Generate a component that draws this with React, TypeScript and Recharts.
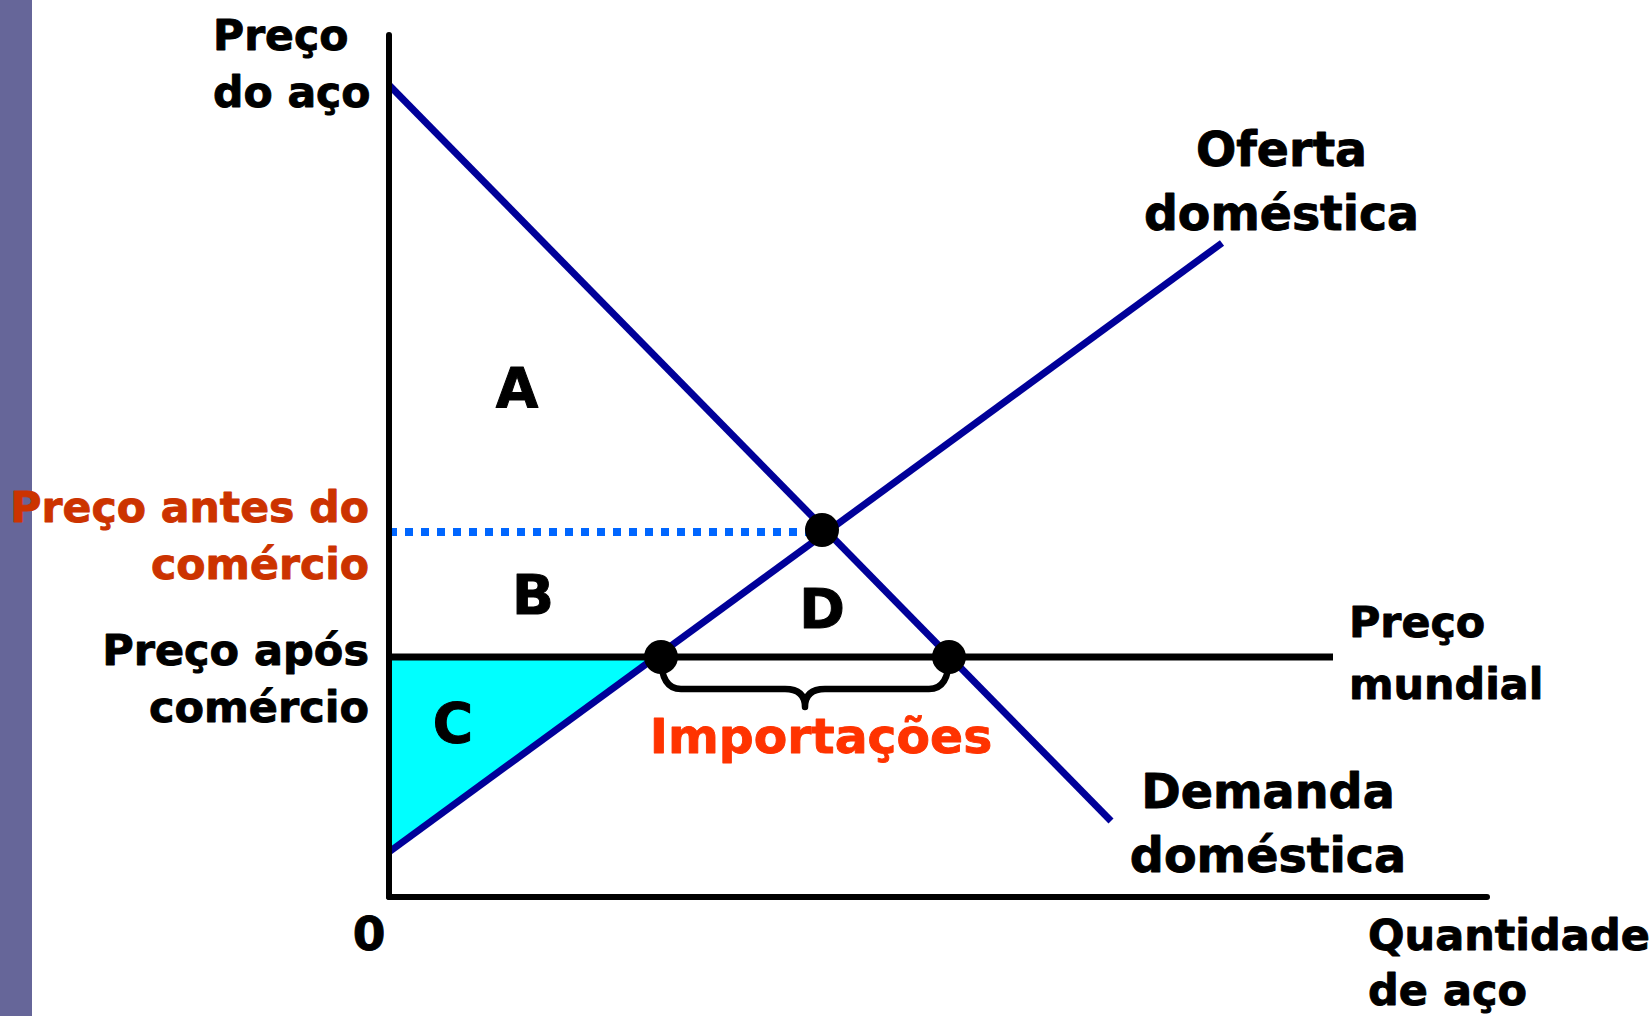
import React from 'react';
import {
  ComposedChart,
  Line,
  Area,
  Scatter,
  XAxis,
  YAxis,
  ReferenceLine,
  ReferenceDot,
  ReferenceArea,
} from 'recharts';

// ---- axis extents (quantity, price) ----
const Q_AXIS_MAX = 109.8;
const P_AXIS_MAX = 86.2;

// ---- curves ----
const demandCurve = [
  { q: 0, p: 81.2 },
  { q: 72.2, p: 7.6 },
];
const supplyCurve = [
  { q: 0, p: 4.5 },
  { q: 83.3, p: 65.4 },
];
const worldPriceLine = [
  { q: 0, p: 24 },
  { q: 94.4, p: 24 },
];
const pretradePriceLine = [
  { q: 0, p: 36.5 },
  { q: 43.3, p: 36.5 },
];
// equilibrium, domestic supply at world price, domestic demand at world price
const keyPoints = [
  { q: 43.3, p: 36.7 },
  { q: 27.2, p: 24 },
  { q: 56, p: 24 },
];
// producer surplus after trade (area C)
const areaC = [
  { q: 0, band: [4.5, 24] },
  { q: 26.9, band: [24, 24] },
];
// imports brace
const importsRange = { from: 27.2, to: 56, top: 24, bottom: 19 };

// ---- text ----
const areaLetters = [
  { text: 'A', q: 12.8, p: 49.0 },
  { text: 'B', q: 14.4, p: 28.3 },
  { text: 'C', q: 6.4, p: 15.5 },
  { text: 'D', q: 43.3, p: 26.9 },
];

type TextLabel = {
  lines: string[];
  q: number;
  p: number;
  anchor: 'start' | 'middle' | 'end';
  size: number;
  lh: number;
  color: string;
};

const textLabels: TextLabel[] = [
  { lines: ['Preço', 'do aço'], q: -17.6, p: 84.7, anchor: 'start', size: 42.5, lh: 57, color: '#000000' },
  { lines: ['Preço antes do', 'comércio'], q: -2.0, p: 37.5, anchor: 'end', size: 42.6, lh: 56.7, color: '#CC3300' },
  { lines: ['Preço após', 'comércio'], q: -2.0, p: 23.2, anchor: 'end', size: 43, lh: 56.7, color: '#000000' },
  { lines: ['0'], q: -2, p: -5.3, anchor: 'middle', size: 47, lh: 0, color: '#000000' },
  { lines: ['Importações'], q: 43.2, p: 14.4, anchor: 'middle', size: 48.8, lh: 0, color: '#FF3300' },
  { lines: ['Oferta', 'doméstica'], q: 89.25, p: 73.1, anchor: 'middle', size: 47.4, lh: 63.6, color: '#000000' },
  { lines: ['Preço', 'mundial'], q: 96.0, p: 26.0, anchor: 'start', size: 42.8, lh: 61.6, color: '#000000' },
  { lines: ['Demanda', 'doméstica'], q: 87.9, p: 8.9, anchor: 'middle', size: 47.6, lh: 63.5, color: '#000000' },
  { lines: ['Quantidade', 'de aço'], q: 97.9, p: -5.3, anchor: 'start', size: 43, lh: 55, color: '#000000' },
];

const FONT = '"DejaVu Sans", Verdana, sans-serif';

const makeTextShape = (lab: TextLabel) => (props: any) => {
  const { cx, cy } = props;
  return (
    <text
      x={cx}
      y={cy}
      textAnchor={lab.anchor}
      fontFamily={FONT}
      fontWeight="bold"
      fontSize={lab.size}
      fill={lab.color}
      stroke={lab.color}
      strokeWidth={0.9}
      strokeLinejoin="round"
    >
      {lab.lines.map((l, i) => (
        <tspan key={i} x={cx} dy={i === 0 ? 0 : lab.lh}>
          {l}
        </tspan>
      ))}
    </text>
  );
};

const letterShape = (t: string) => (props: any) => (
  <text
    x={props.cx}
    y={props.cy}
    textAnchor="middle"
    fontFamily={FONT}
    fontWeight="bold"
    fontSize={55}
    fill="#000"
    stroke="#000"
    strokeWidth={1}
    strokeLinejoin="round"
  >
    {t}
  </text>
);

const braceShape = (props: any) => {
  const { x, y, width, height } = props;
  const x0 = x;
  const x1 = x + width;
  const xm = x + width / 2;
  const hy = y + height * 0.64;
  const by = y + height;
  const r = 20;
  const d = `M ${x0} ${y} Q ${x0} ${hy} ${x0 + r} ${hy} L ${xm - r} ${hy} Q ${xm} ${hy} ${xm} ${by} Q ${xm} ${hy} ${xm + r} ${hy} L ${x1 - r} ${hy} Q ${x1} ${hy} ${x1} ${y}`;
  return <path d={d} fill="none" stroke="#000" strokeWidth={6.5} strokeLinecap="round" strokeLinejoin="round" />;
};

const dotShape = (props: any) => <circle cx={props.cx} cy={props.cy} r={17} fill="#000" />;

export default function App() {
  return (
    <div style={{ position: 'relative', width: 1650, height: 1016, background: '#fff', overflow: 'hidden' }}>
      <style>{`body{margin:0;}`}</style>
      <div
        style={{
          position: 'absolute',
          left: 0,
          top: 0,
          width: 32,
          height: 1016,
          background: '#666699',
        }}
      />
      <div style={{ position: 'absolute', left: 0, top: 0 }}>
        <ComposedChart
          width={1650}
          height={1016}
          margin={{ top: 35, right: 163, bottom: 119, left: 389 }}
        >
          <XAxis type="number" dataKey="q" domain={[0, Q_AXIS_MAX]} hide allowDataOverflow />
          <YAxis type="number" domain={[0, P_AXIS_MAX]} hide allowDataOverflow />

          <Area
            data={areaC}
            dataKey="band"
            type="linear"
            stroke="none"
            fill="#00FFFF"
            fillOpacity={1}
            isAnimationActive={false}
          />

          <Line
            data={worldPriceLine}
            dataKey="p"
            type="linear"
            stroke="#000000"
            strokeWidth={7}
            dot={false}
            activeDot={false}
            isAnimationActive={false}
          />
          <Line
            data={pretradePriceLine}
            dataKey="p"
            type="linear"
            stroke="#0066FF"
            strokeWidth={8}
            strokeDasharray="8 8"
            dot={false}
            activeDot={false}
            isAnimationActive={false}
          />
          <Line
            data={demandCurve}
            dataKey="p"
            type="linear"
            stroke="#000099"
            strokeWidth={7}
            dot={false}
            activeDot={false}
            isAnimationActive={false}
          />
          <Line
            data={supplyCurve}
            dataKey="p"
            type="linear"
            stroke="#000099"
            strokeWidth={7}
            dot={false}
            activeDot={false}
            isAnimationActive={false}
          />

          <ReferenceLine
            segment={[
              { x: 0, y: 0 },
              { x: 0, y: P_AXIS_MAX },
            ]}
            stroke="#000"
            strokeWidth={6}
            strokeLinecap="round"
            ifOverflow="visible"
          />
          <ReferenceLine
            segment={[
              { x: 0, y: 0 },
              { x: Q_AXIS_MAX, y: 0 },
            ]}
            stroke="#000"
            strokeWidth={6}
            strokeLinecap="round"
            ifOverflow="visible"
          />

          <ReferenceArea
            x1={importsRange.from}
            x2={importsRange.to}
            y1={importsRange.bottom}
            y2={importsRange.top}
            shape={braceShape}
            ifOverflow="visible"
          />

          <Scatter data={keyPoints} dataKey="p" shape={dotShape} isAnimationActive={false} />

          {areaLetters.map((l) => (
            <ReferenceDot key={l.text} x={l.q} y={l.p} r={1} shape={letterShape(l.text)} ifOverflow="visible" />
          ))}
          {textLabels.map((l, i) => (
            <ReferenceDot key={i} x={l.q} y={l.p} r={1} shape={makeTextShape(l)} ifOverflow="visible" />
          ))}
        </ComposedChart>
      </div>
    </div>
  );
}
